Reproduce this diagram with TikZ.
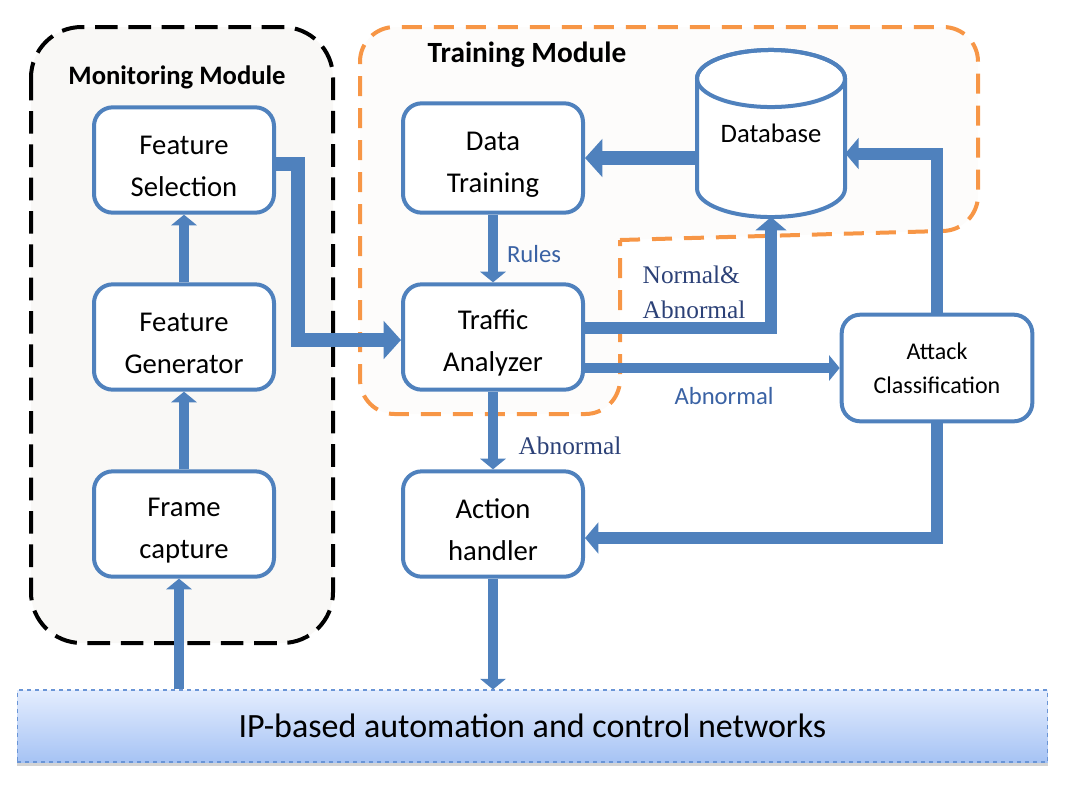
\documentclass[tikz,border=0pt]{standalone}
\usepackage{fontspec}
\setmainfont{Carlito}
\newfontfamily\timesfont{Liberation Serif}
\usetikzlibrary{arrows.meta,shadows,calc}

\definecolor{boxblue}{HTML}{4F81BD}
\definecolor{labelblue}{HTML}{3A62A4}
\definecolor{navy}{HTML}{2C4177}
\definecolor{modorange}{HTML}{F79646}
\definecolor{modfill}{HTML}{F9F8F6}
\definecolor{trainfill}{HTML}{FDFCFB}
\definecolor{bartop}{HTML}{E4EDFE}
\definecolor{barbottom}{HTML}{A6C3F4}
\definecolor{barline}{HTML}{6A95D6}

\tikzset{
  box/.style={draw=boxblue, line width=3pt, rounded corners=14pt, fill=white, align=center,
    minimum width=135pt, minimum height=79pt},
  block/.style={box, font=\fontsize{21.5}{31.5}\selectfont,
    execute at begin node={\rule{0pt}{55pt}}},
  flow/.style={draw=boxblue, line width=7.5pt, -{Triangle[width=19pt,length=8pt]}},
  midflow/.style={draw=boxblue, line width=9pt, line join=miter, -{Triangle[width=23pt,length=10pt]}},
  bigflow/.style={draw=boxblue, line width=10.5pt, line join=miter, -{Triangle[width=28pt,length=13pt]}},
  lbl/.style={text=labelblue, font=\fontsize{18.5}{22}\selectfont},
  tlbl/.style={text=navy, font=\timesfont\fontsize{19}{26}\selectfont, align=left},
}

\begin{document}
\begin{tikzpicture}[x=0.75pt,y=-0.75pt]
	\useasboundingbox (0,0) rectangle (1069,790);
	% modules
	\draw[line width=3pt, dash pattern=on 17pt off 8pt, fill=modfill, rounded corners=38pt] (31,27) rectangle (333,643);
	\node[font=\bfseries\fontsize{20}{24}\selectfont] (montitle) at (177,77) {Monitoring Module};
	\draw[modorange, line width=3pt, dash pattern=on 15pt off 9pt, fill=trainfill, rounded corners=26pt]
		(620,240) -- (978,230) -- (978,27) -- (360,27) -- (360,414) -- (620,414) -- (620,240);
	\node[font=\bfseries\fontsize{22}{24}\selectfont] (traintitle) at (527,55) {Training Module};

	% blocks
	\node[block] (fs) at (184,160) {Feature\\Selection};
	\node[block] (fg) at (184,337) {Feature\\Generator};
	\node[block] (fc) at (184,524) {Frame\\capture};
	\node[block, minimum height=82pt] (dt) at (493,158) {Data\\Training};
	\node[block] (ta) at (493,337) {Traffic\\Analyzer};
	\node[block] (ah) at (493,524) {Action\\handler};
	\node[box, minimum width=143pt, minimum height=80pt, font=\fontsize{18}{25.5}\selectfont] (ac) at (937,368) {Attack\\Classification};

	% database
	\draw[boxblue, line width=3pt, fill=white] (697,78.5) -- (697,188.5)
		arc[start angle=180, end angle=360, x radius=55.5pt, y radius=21.4pt] -- (845,78.5)
		arc[start angle=0, end angle=180, x radius=55.5pt, y radius=21.4pt];
	\draw[boxblue, line width=3pt] (771,78.5) ellipse[x radius=55.5pt, y radius=21.4pt];
	\node[minimum width=111pt, minimum height=125pt, font=\fontsize{20}{24}\selectfont] (db) at (771,133.5) {Database};

	\node[draw=barline, dashed, line width=0.8pt, top color=bartop, bottom color=barbottom,
		drop shadow={shadow xshift=0pt, shadow yshift=-3pt, opacity=0.35},
		minimum width=773pt, minimum height=54pt, font=\fontsize{25.5}{30}\selectfont] (net) at (532.5,726) {IP-based automation and control networks};

	% connectors
	\draw[flow] (fc.north) -- (fg.south);
	\draw[flow] (fg.north) -- (fs.south);
	\draw[flow] ($(net.north -| fc.south)+(-5,0)$) -- ($(fc.south)+(-5,0)$);
	\draw[flow] (dt.south) -- (ta.north);
	\draw[flow] (ta.south) -- (ah.north);
	\draw[flow] (ah.south) -- (ah.south |- net.north);
	\draw[bigflow] ($(fs.east)+(0,4)$) -- ++(22,0) |- ($(ta.west)+(0,3)$);
	\draw[bigflow] (db.west |- dt.east) -- (dt.east);
	\draw[midflow] ($(ta.east)+(0,-9)$) -| (db.south);
	\draw[flow] (ta.east |- ac.west) -- (ac.west);
	\draw[midflow] (ac.north) |- ($(db.east)+(0,20)$);
	\draw[midflow] (ac.south) |- ($(ah.east)+(0,14)$);

	% labels
	\node[lbl] (rules) at (534,254) {Rules};
	\node[tlbl, anchor=west] (both) at (638,292) {Normal\&\\Abnormal};
	\node[lbl] (abn1) at (724,396) {Abnormal};
	\node[tlbl] (abn2) at (570,446) {Abnormal};
\end{tikzpicture}
\end{document}
